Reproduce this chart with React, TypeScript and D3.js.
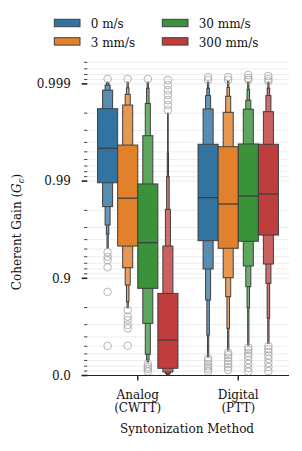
import React, { useEffect, useRef } from "react";
import * as d3 from "d3";

const groups = [["Analog", "(CWTT)"], ["Digital", "(PTT)"]];
const hues = ["0 m/s", "3 mm/s", "30 mm/s", "300 mm/s"];
const colors = ["#3274a1", "#e1812c", "#3a923a", "#c03d3e"];
const yTickValues = [0, 0.9, 0.99, 0.999];
const yTickLabels = ["0.0", "0.9", "0.99", "0.999"];

// medians per group, one per hue
const medians = [
  [0.9954, 0.985, 0.957, 0.569],
  [0.9852, 0.9828, 0.9858, 0.9864],
];

// letter values [low, high], widest box first
const analogLevels = [
  [[0.9896, 0.9982], [0.9817, 0.99884], [0.9717, 0.99897], [0.965, 0.99902], [0.951, 0.99904]],
  [[0.9534, 0.99574], [0.9222, 0.99835], [0.8828, 0.99872], [0.826, 0.9989], [0.799, 0.99904]],
  [[0.8732, 0.9893], [0.7096, 0.99659], [0.395, 0.99841], [0.3075, 0.99889], [0.274, 0.99904]],
  [[0.157, 0.857], [0.08, 0.9534], [0.046, 0.9805], [0.0234, 0.991], [0.012, 0.99482], [0.005, 0.998]],
];
const digitalLevels = [
  [[0.959, 0.99582], [0.9198, 0.99819], [0.8328, 0.99868], [0.6168, 0.99889], [0.3593, 0.99904]],
  [[0.9509, 0.99557], [0.9014, 0.99804], [0.8454, 0.99866], [0.673, 0.99891], [0.4533, 0.99906]],
  [[0.9584, 0.99585], [0.9253, 0.99818], [0.878, 0.99853], [0.799, 0.99886], [0.5144, 0.99904]],
  [[0.9641, 0.99582], [0.9287, 0.99807], [0.8875, 0.99868], [0.742, 0.99889], [0.5336, 0.99904]],
];

const analogOutliers = [
  [0.99911, 0.946, 0.94, 0.935, 0.923, 0.862, 0.503],
  [0.99911, 0.788, 0.752, 0.7315, 0.698, 0.673, 0.5065],
  [0.99911, 0.2385, 0.182, 0.143, 0.09],
  [0.99909, 0.99897, 0.99884, 0.9987, 0.99853, 0.99835, 0.99814],
];
const digitalOutliers = [
  [0.99915, 0.99909, 0.332, 0.291, 0.2385, 0.192, 0.143, 0.09],
  [0.99915, 0.99909, 0.42, 0.385, 0.34, 0.291, 0.2385, 0.182, 0.122],
  [0.99919, 0.99913, 0.99909, 0.485, 0.4533, 0.4133, 0.37, 0.3075, 0.2385, 0.163, 0.09],
  [0.99917, 0.99911, 0.99906, 0.503, 0.466, 0.427, 0.3774, 0.324, 0.2563, 0.182, 0.101],
];

const FONT = "'DejaVu Serif', serif";
const FS = "12px";
const EDGE = "#3f3f3f";

export default function App() {
  const ref = useRef<SVGSVGElement>(null);

  useEffect(() => {
    document.body.style.margin = "0";
    const svg = d3.select(ref.current);
    svg.selectAll("*").remove();

    const tTop = 3.26;
    const nines = (g: number) => -Math.log10(1 - g);
    const y = d3.scaleLinear().domain([0, tTop]).range([375.5, 375.5 - 97.2 * tTop]);
    const yv = (g: number) => y(nines(g));

    const x = d3.scaleBand().domain(["0", "1"]).range([87.5, 288.5]);
    const hx = d3.scaleBand().domain(hues).range([-x.bandwidth() * 0.4, x.bandwidth() * 0.4]);

    // minor ticks like a log axis on 1 - g
    const minor: number[] = [];
    for (let d = 1; d <= 4; d++)
      for (let k = 1; k <= 8; k++) {
        const g = 1 - (10 - k) * Math.pow(10, -d);
        if (nines(g) <= tTop) minor.push(g);
      }

    // grid
    svg.append("g")
      .selectAll("line")
      .data(minor.concat(yTickValues))
      .join("line")
      .attr("x1", 86).attr("x2", 289)
      .attr("y1", d => yv(d)).attr("y2", d => yv(d))
      .attr("stroke", "#e9e9e9").attr("stroke-width", 0.8);

    // y ticks
    svg.append("g")
      .selectAll("line")
      .data(minor)
      .join("line")
      .attr("x1", 84).attr("x2", 87.3)
      .attr("y1", d => yv(d)).attr("y2", d => yv(d))
      .attr("stroke", "#333").attr("stroke-width", 0.9);
    svg.append("g")
      .selectAll("line")
      .data(yTickValues)
      .join("line")
      .attr("x1", 81.7).attr("x2", 87.3)
      .attr("y1", d => yv(d)).attr("y2", d => yv(d))
      .attr("stroke", "#222").attr("stroke-width", 1.6);
    svg.append("g")
      .selectAll("text")
      .data(yTickValues)
      .join("text")
      .attr("x", 71).attr("y", d => yv(d))
      .attr("dy", "0.35em")
      .attr("text-anchor", "end")
      .style("font-family", FONT).style("font-size", FS).attr("fill", "#111")
      .text((d, i) => yTickLabels[i]);

    // boxen
    const levelsByGroup = [analogLevels, digitalLevels];
    const outliersByGroup = [analogOutliers, digitalOutliers];
    groups.forEach((grp, gi) => {
      hues.forEach((h, hi) => {
        const cx = (x(String(gi)) as number) + x.bandwidth() / 2 + (hx(h) as number) + hx.bandwidth() / 2;
        const w0 = hx.bandwidth();
        const levels = levelsByGroup[gi][hi];
        const g = svg.append("g");
        const items = levels.map((lv, li) => ({ lv, li })).reverse();
        g.selectAll("rect")
          .data(items)
          .join("rect")
          .attr("x", d => cx - (w0 * Math.pow(0.5, d.li)) / 2)
          .attr("width", d => w0 * Math.pow(0.5, d.li))
          .attr("y", d => yv(d.lv[1]))
          .attr("height", d => yv(d.lv[0]) - yv(d.lv[1]))
          .attr("fill", d => d3.interpolateRgb(colors[hi], "#ffffff")(d.li === 0 ? 0 : 0.18 * Math.sqrt(d.li)))
          .attr("stroke", EDGE).attr("stroke-width", 1);
        g.append("line")
          .attr("x1", cx - w0 / 2).attr("x2", cx + w0 / 2)
          .attr("y1", yv(medians[gi][hi])).attr("y2", yv(medians[gi][hi]))
          .attr("stroke", EDGE).attr("stroke-width", 1.3);
        g.selectAll("circle")
          .data(outliersByGroup[gi][hi])
          .join("circle")
          .attr("cx", cx).attr("cy", d => yv(d)).attr("r", 3.8)
          .attr("fill", "none").attr("stroke", "#a3a3a3").attr("stroke-width", 0.8);
      });
    });

    // bottom spine + x ticks
    svg.append("line")
      .attr("x1", 81.7).attr("x2", 289).attr("y1", 375.5).attr("y2", 375.5)
      .attr("stroke", "#222").attr("stroke-width", 1.2);
    groups.forEach((grp, gi) => {
      const cx = (x(String(gi)) as number) + x.bandwidth() / 2;
      svg.append("line")
        .attr("x1", cx).attr("x2", cx).attr("y1", 375.5).attr("y2", 380.5)
        .attr("stroke", "#222").attr("stroke-width", 1.4);
      grp.forEach((line, li) => {
        svg.append("text")
          .attr("x", cx).attr("y", 399 + li * 13)
          .attr("text-anchor", "middle")
          .style("font-family", FONT).style("font-size", FS).attr("fill", "#111")
          .text(line);
      });
    });

    svg.append("text")
      .attr("x", 187).attr("y", 433)
      .attr("text-anchor", "middle")
      .style("font-family", FONT).style("font-size", FS).attr("fill", "#111")
      .text("Syntonization Method");

    // y label
    const yl = svg.append("text")
      .attr("transform", "translate(21,232) rotate(-90)")
      .attr("text-anchor", "middle")
      .style("font-family", FONT).style("font-size", FS).attr("fill", "#111");
    yl.append("tspan").text("Coherent Gain (");
    yl.append("tspan").style("font-style", "italic").text("G");
    yl.append("tspan").attr("dy", 2.5).style("font-size", "8.5px").style("font-style", "italic").text("c");
    yl.append("tspan").attr("dy", -2.5).text(")");

    // legend
    const leg = svg.append("g");
    hues.forEach((h, i) => {
      const col = Math.floor(i / 2);
      const row = i % 2;
      const lx = 54.3 + col * 108;
      const ly = 19.3 + row * 18.4;
      leg.append("rect")
        .attr("x", lx).attr("y", ly).attr("width", 25.7).attr("height", 7.4)
        .attr("fill", colors[i]).attr("stroke", EDGE).attr("stroke-width", 1);
      leg.append("text")
        .attr("x", lx + 36.4).attr("y", ly + 8.8)
        .style("font-family", FONT).style("font-size", FS).attr("fill", "#111")
        .text(h);
    });
  }, []);

  return <svg ref={ref} width={302} height={451} style={{ display: "block" }} />;
}
